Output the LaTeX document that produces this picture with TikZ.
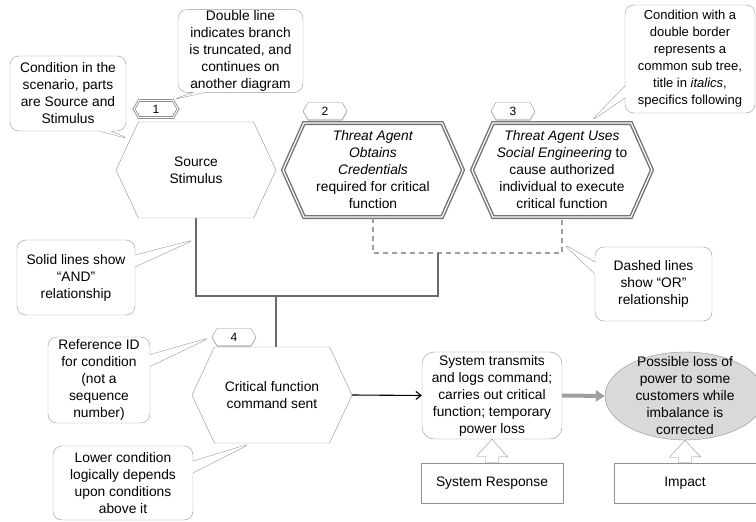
\documentclass[tikz,border=0pt]{standalone}
\usepackage{fontspec}
\setmainfont{Liberation Sans}
\usetikzlibrary{shapes.symbols,shapes.callouts,shapes.geometric,shadows,arrows.meta,positioning}

\tikzset{
  cond/.style={signal, signal to=west and east, signal pointer angle=130, draw=gray!85, fill=white,
    minimum width=160, minimum height=96, inner sep=1pt, align=center},
  subtree/.style={cond, signal pointer angle=132, minimum width=180, minimum height=94,
    draw=gray!90!black, line width=1.4pt, double=white, double distance=1.2pt,
    drop shadow={opacity=0.35, shadow xshift=1pt, shadow yshift=-1.5pt}},
  refid/.style={signal, signal to=west and east, signal pointer angle=120, draw=gray!85, fill=white,
    minimum width=44, minimum height=17, inner sep=0pt, font=\fontsize{12}{14}\selectfont},
  idshadow/.style={refid, drop shadow={opacity=0.4, shadow xshift=0pt, shadow yshift=-1.5pt}},
  note/.style={rectangle callout, draw=gray!80, fill=white, rounded corners=9pt, align=center,
    inner sep=1pt, callout pointer width=12pt},
  box/.style={rectangle, draw=gray!85, fill=white, minimum width=142, minimum height=40,
    drop shadow={opacity=0.2, shadow xshift=1pt, shadow yshift=-1pt}},
  hollow/.style={draw=gray!85, fill=white, line join=miter},
  andline/.style={draw=black!58, line width=1.2pt},
  orline/.style={draw=gray!75, line width=1.5pt, dash pattern=on 5pt off 4pt}
}

\begin{document}
\begin{tikzpicture}[x=1pt, y=-1pt, font=\fontsize{13.8}{17}\selectfont]
  \useasboundingbox (0,0) rectangle (756,522);
  \clip (0,0) rectangle (756,522);

  \node[cond] (cond1) at (196,170) {Source\\Stimulus};
  \node[subtree] (cond2) at (373,170) {\textit{Threat Agent}\\\textit{Obtains}\\\textit{Credentials}\\required for critical\\function};
  \node[subtree] (cond3) at (562,170) {\textit{Threat Agent Uses}\\\textit{Social Engineering} to\\cause authorized\\individual to execute\\critical function};
  \node[cond] (cond4) at (272,395) {Critical function\\command sent};

  \node[refid, double=white, double distance=0.9pt, line width=0.9pt] (id1) at (156,109) {1};
  \node[idshadow] (id2) at (325,111) {2};
  \node[idshadow] (id3) at (513,111) {3};
  \node[idshadow] (id4) at (234,337) {4};

  \coordinate (orj) at (438,253);
  \coordinate (andbar) at (276,296);
  \draw[orline] (cond2.south) |- (cond3.south |- orj) -- coordinate[pos=0.28] (ortip) (cond3.south);
  \draw[andline] (cond1.south) -- coordinate[pos=0.27] (andtip) (cond1.south |- andbar) -| (orj);
  \draw[andline] (andbar) -- (andbar |- cond4.north);

  \node[draw=gray!85, fill=white, rounded corners=12pt, minimum width=140, minimum height=87,
    inner sep=1pt, align=center] (resp) at (492,395.5)
    {System transmits\\and logs command;\\carries out critical\\function; temporary\\power loss};
  \node[ellipse, draw=gray!85, fill=gray!30, minimum width=160, minimum height=88] (impact) at (685,396) {};
  \node[align=center, inner sep=0pt] (impacttext) at (impact.center)
    {Possible loss of\\power to some\\customers while\\imbalance is\\corrected};

  \draw[line width=1.1pt, -{Straight Barb[length=5pt,width=8pt]}] (cond4.east) -- (resp.west);
  \draw[line width=4pt, draw=gray!75, -{Triangle[length=9pt,width=11pt]}] (resp.east) -- (impact.west);

  \node[box] (sysresp) at (492,483) {System Response};
  \node[box] (impbox) at (685,483) {Impact};
  \draw[hollow] (resp.south) -- ++(-15.5,17) -- ++(9,0) -- ([xshift=-6.5pt]sysresp.north)
    -- ([xshift=6.5pt]sysresp.north) -- ++(0,-6) -- ++(9,0) -- cycle;
  \draw[hollow] (impact.south) -- ++(-15.5,17) -- ++(9,0) -- ([xshift=-6.5pt]impbox.north)
    -- ([xshift=6.5pt]impbox.north) -- ++(0,-6) -- ++(9,0) -- cycle;

  \node[note, minimum width=116, minimum height=75, callout absolute pointer={(cond1.155)}] (note1)
    at (68,93.5) {Condition in the\\scenario, parts\\are Source and\\Stimulus};
  \node[note, minimum width=125, minimum height=82, callout absolute pointer={(id1.30)}] (note2)
    at (240.5,51) {Double line\\indicates branch\\is truncated, and\\continues on\\another diagram};
  \node[note, minimum width=130, minimum height=108, callout absolute pointer={(cond3.60)},
    font=\fontsize{13}{17}\selectfont] (note3)
    at (690,59) {Condition with a\\double border\\represents a\\common sub tree,\\title in \textit{italics},\\specifics following};
  \node[note, minimum width=118, minimum height=75, callout absolute pointer={(andtip)}] (note4)
    at (76,277.5) {Solid lines show\\``AND''\\relationship};
  \node[note, minimum width=102, minimum height=86, callout absolute pointer={(id4.west)}] (note5)
    at (99,380) {Reference ID\\for condition\\(not a\\sequence\\number)};
  \node[note, minimum width=140, minimum height=74, callout absolute pointer={(cond4.247)}] (note6)
    at (123,483) {Lower condition\\logically depends\\upon conditions\\above it};
  \node[note, minimum width=117, minimum height=74, callout absolute pointer={(ortip)}] (note7)
    at (653.5,284) {Dashed lines\\show ``OR''\\relationship};
\end{tikzpicture}
\end{document}
